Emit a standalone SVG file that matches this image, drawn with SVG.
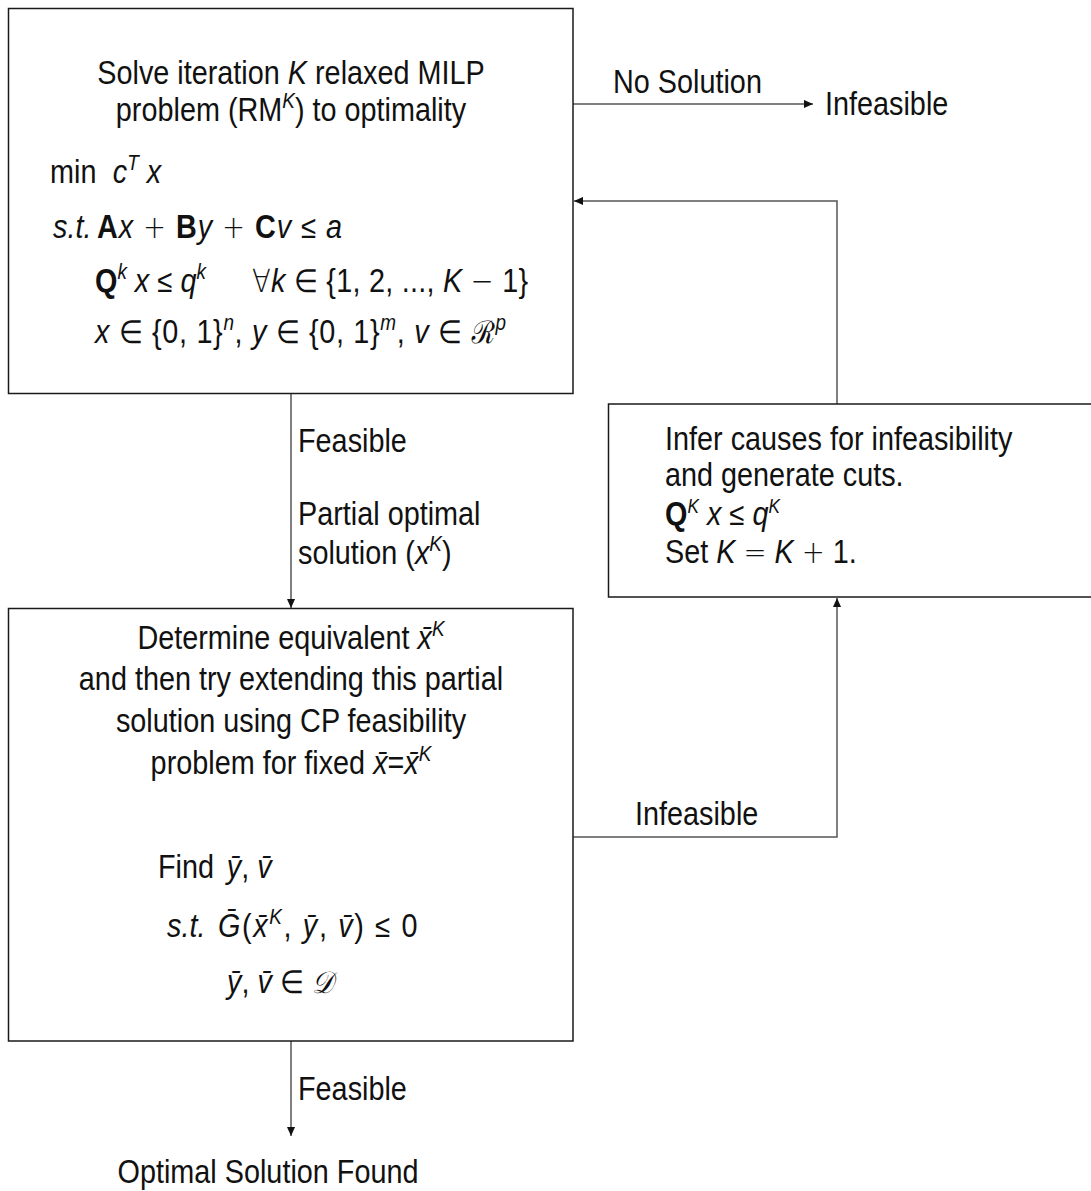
<svg xmlns="http://www.w3.org/2000/svg" width="1091" height="1191" viewBox="0 0 1091 1191">
<style>
.t{font-family:"Liberation Sans",Arial,sans-serif;font-size:33.5px;fill:#111}
.m{text-anchor:middle}
.i{font-style:italic}
.b{font-weight:bold}
.s{font-size:22px}
.s2{font-size:20px}
.sym{font-family:"DejaVu Sans","Liberation Sans",sans-serif;font-size:32px;font-weight:200}
.cal{font-family:"DejaVu Serif","Noto Sans",serif;font-style:italic;font-size:31px}
.box{fill:#fff;stroke:#1a1a1a;stroke-width:1.5}
.c{fill:none;stroke:#555;stroke-width:1.5}
</style>
<defs>
<marker id="ah" viewBox="0 0 10 10" refX="10" refY="5" markerWidth="11" markerHeight="9" markerUnits="userSpaceOnUse" orient="auto">
<path d="M0,0.5 L10,5 L0,9.5 z" fill="#111"/>
</marker>
</defs>

<g id="connectors">
<path class="c" d="M573,104 H813" marker-end="url(#ah)"/>
<path class="c" d="M837,404 V201 H574" marker-end="url(#ah)"/>
<path class="c" d="M291,393 V608" marker-end="url(#ah)"/>
<path class="c" d="M573,837 H837 V598" marker-end="url(#ah)"/>
<path class="c" d="M291,1041 V1136" marker-end="url(#ah)"/>
<text class="t" transform="translate(613 93) scale(.86 1)">No Solution</text>
<text class="t" transform="translate(298 452) scale(.86 1)">Feasible</text>
<text class="t" transform="translate(298 525) scale(.86 1)">Partial optimal</text>
<text class="t" transform="translate(298 564) scale(.86 1)">solution (<tspan class="i">x</tspan><tspan class="s i" dy="-13">K</tspan><tspan dy="13">)</tspan></text>
<text class="t" transform="translate(635 825) scale(.86 1)">Infeasible</text>
<text class="t" transform="translate(298 1100) scale(.86 1)">Feasible</text>
</g>

<g id="infeasible-end">
<text class="t" transform="translate(825 115) scale(.86 1)">Infeasible</text>
</g>

<g id="optimal-end">
<text class="t m" transform="translate(268 1183) scale(.86 1)">Optimal Solution Found</text>
</g>

<g id="box-milp">
<rect class="box" x="8.5" y="8.5" width="564.5" height="385"/>
<text class="t m" transform="translate(291 84) scale(.86 1)">Solve iteration <tspan class="i">K</tspan> relaxed MILP</text>
<text class="t m" transform="translate(291 121) scale(.86 1)">problem (RM<tspan class="s i" dy="-13">K</tspan><tspan dy="13">) to optimality</tspan></text>
<text class="t" transform="translate(50 183) scale(.86 1)">min<tspan class="i" x="73">c</tspan><tspan class="s i" dy="-13">T</tspan><tspan class="i" dy="13"> x</tspan></text>
<text class="t i" transform="translate(53 238) scale(.86 1)">s.t.</text>
<text class="t" transform="translate(97 238) scale(.86 1)" textLength="285" lengthAdjust="spacing"><tspan class="b">A</tspan><tspan class="i">x</tspan> <tspan class="sym">+</tspan> <tspan class="b">B</tspan><tspan class="i">y</tspan> <tspan class="sym">+</tspan> <tspan class="b">C</tspan><tspan class="i">v</tspan> <tspan class="sym">≤</tspan> <tspan class="i">a</tspan></text>
<text class="t" transform="translate(95 292) scale(.86 1)"><tspan class="b">Q</tspan><tspan class="s i" dy="-13">k</tspan><tspan class="i" dy="13"> x</tspan> <tspan class="sym">≤</tspan> <tspan class="i">q</tspan><tspan class="s i" dy="-13">k</tspan></text>
<text class="t" transform="translate(252 292) scale(.86 1)" textLength="321" lengthAdjust="spacing"><tspan class="sym">∀</tspan><tspan class="i">k</tspan> <tspan class="sym">∈</tspan> {1, 2, ..., <tspan class="i">K</tspan> <tspan class="sym">−</tspan> 1}</text>
<text class="t" transform="translate(95 343) scale(.86 1)" textLength="478" lengthAdjust="spacing"><tspan class="i">x</tspan> <tspan class="sym">∈</tspan> {0, 1}<tspan class="s i" dy="-13">n</tspan><tspan dy="13">, </tspan><tspan class="i">y</tspan> <tspan class="sym">∈</tspan> {0, 1}<tspan class="s i" dy="-13">m</tspan><tspan dy="13">, </tspan><tspan class="i">v</tspan> <tspan class="sym">∈</tspan> <tspan class="cal">ℛ</tspan><tspan class="s i" dy="-13">p</tspan></text>
</g>

<g id="box-cuts">
<rect class="box" x="608.5" y="404" width="490" height="193"/>
<text class="t" transform="translate(665 450) scale(.86 1)">Infer causes for infeasibility</text>
<text class="t" transform="translate(665 486) scale(.86 1)">and generate cuts.</text>
<text class="t" transform="translate(665 525) scale(.86 1)"><tspan class="b">Q</tspan><tspan class="s2 i" dy="-12">K</tspan><tspan class="i" dy="12"> x</tspan> <tspan class="sym">≤</tspan> <tspan class="i">q</tspan><tspan class="s2 i" dy="-12">K</tspan></text>
<text class="t" transform="translate(665 563) scale(.86 1)">Set <tspan class="i">K</tspan> <tspan class="sym">=</tspan> <tspan class="i">K</tspan> <tspan class="sym">+</tspan> 1.</text>
</g>

<g id="box-cp">
<rect class="box" x="8.5" y="608.5" width="564.5" height="432.5"/>
<text class="t m" transform="translate(291 649) scale(.86 1)">Determine equivalent <tspan class="i">x̄</tspan><tspan class="s i" dy="-13">K</tspan></text>
<text class="t m" transform="translate(291 690) scale(.86 1)">and then try extending this partial</text>
<text class="t m" transform="translate(291 732) scale(.86 1)">solution using CP feasibility</text>
<text class="t m" transform="translate(291 774) scale(.86 1)">problem for fixed <tspan class="i">x̄</tspan>=<tspan class="i">x̄</tspan><tspan class="s i" dy="-13">K</tspan></text>
<text class="t" transform="translate(158 878) scale(.86 1)">Find<tspan class="i" x="80">ȳ</tspan>, <tspan class="i">v̄</tspan></text>
<text class="t i" transform="translate(167 937) scale(.86 1)">s.t.</text>
<text class="t" transform="translate(218 937) scale(.86 1)" textLength="232" lengthAdjust="spacing"><tspan class="i">Ḡ</tspan>(<tspan class="i">x̄</tspan><tspan class="s i" dy="-13">K</tspan><tspan dy="13">, </tspan><tspan class="i">ȳ</tspan>, <tspan class="i">v̄</tspan>)  <tspan class="sym">≤</tspan> 0</text>
<text class="t" transform="translate(227 993) scale(.86 1)"><tspan class="i">ȳ</tspan>, <tspan class="i">v̄</tspan> <tspan class="sym">∈</tspan> <tspan class="cal">𝒟</tspan></text>
</g>
</svg>
